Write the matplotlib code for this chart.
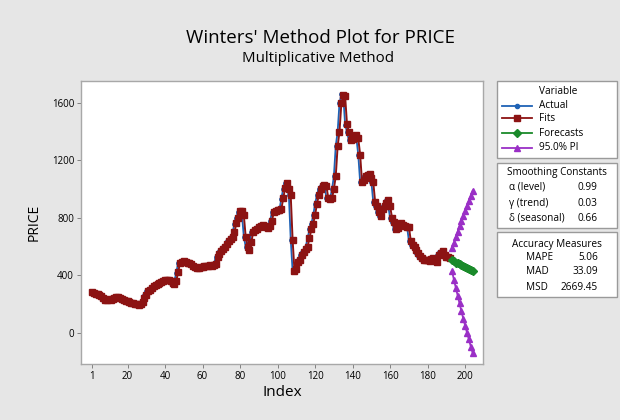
import matplotlib
matplotlib.use("Agg")
import matplotlib.pyplot as plt
from matplotlib.patches import Rectangle
from matplotlib.lines import Line2D
import numpy as np

# ---------------- data ----------------
actual = [280, 275, 270, 262, 258, 245, 232, 228, 232, 230,
          236, 245, 250, 252, 248, 238, 225, 220, 218, 215,
          210, 206, 205, 200, 196, 198, 210, 240, 262, 290,
          300, 312, 322, 330, 342, 348, 352, 360, 365, 368,
          370, 362, 350, 342, 362, 420, 488, 495, 498, 492,
          488, 486, 484, 470, 458, 452, 450, 455, 460, 462,
          462, 465, 470, 468, 472, 476, 525, 548, 570, 585,
          600, 615, 640, 652, 670, 700, 760, 800, 845, 850,
          820, 670, 600, 575, 630, 700, 712, 722, 735, 745,
          750, 742, 735, 728, 745, 780, 840, 850, 858, 855,
          860, 935, 1005, 1045, 1000, 960, 650, 430, 445, 490,
          510, 540, 560, 580, 600, 660, 720, 760, 820, 900,
          960, 1005, 1020, 1030, 1025, 940, 930, 935, 1000, 1090,
          1300, 1400, 1600, 1660, 1650, 1450, 1400, 1340, 1345, 1370,
          1375, 1355, 1240, 1050, 1060, 1095, 1100, 1110, 1080, 1050,
          910, 885, 840, 815, 860, 885, 905, 925, 880, 800,
          770, 725, 730, 760, 765, 750, 742, 738, 740, 640,
          610, 600, 575, 555, 535, 520, 510, 505, 505, 500,
          512, 520, 505, 490, 540, 560, 568, 545, 530, 528,
          520, 515]

fits = [282, 278, 274, 268, 262, 256, 244, 232, 230, 233,
        232, 238, 246, 251, 252, 246, 237, 226, 221, 219,
        214, 210, 207, 204, 200, 197, 200, 212, 242, 264,
        292, 302, 314, 324, 332, 344, 349, 354, 361, 366,
        369, 370, 361, 350, 343, 364, 422, 490, 496, 498,
        491, 488, 486, 483, 469, 458, 452, 451, 456, 460,
        463, 463, 466, 470, 468, 473, 477, 526, 549, 571,
        586, 601, 616, 641, 653, 671, 702, 762, 802, 846,
        849, 818, 668, 601, 577, 632, 702, 713, 723, 736,
        746, 750, 741, 735, 729, 746, 782, 841, 851, 858,
        855, 861, 936, 1006, 1043, 1000, 958, 648, 432, 447,
        491, 511, 541, 561, 581, 601, 661, 720, 761, 821,
        900, 960, 1004, 1020, 1030, 1024, 941, 931, 936, 1001,
        1090, 1298, 1401, 1598, 1658, 1648, 1452, 1399, 1341, 1346,
        1369, 1374, 1354, 1241, 1052, 1061, 1094, 1100, 1109, 1080,
        1049, 911, 885, 841, 816, 859, 884, 905, 924, 881,
        801, 770, 726, 731, 759, 764, 750, 742, 738, 739,
        641, 610, 600, 576, 556, 536, 521, 511, 506, 505,
        501, 512, 519, 505, 491, 539, 559, 567, 545, 531,
        528, 520]

forecasts = [505, 498, 490, 486, 478, 470, 465, 458, 450, 445, 438, 430]
upper_pi = [590, 625, 665, 705, 745, 780, 815, 850, 885, 920, 955, 990]
lower_pi = [430, 370, 315, 260, 205, 150, 100, 50, 0, -45, -95, -140]

x_ticks = [1, 20, 40, 60, 80, 100, 120, 140, 160, 180, 200]
y_ticks = [0, 400, 800, 1200, 1600]

legend_labels = ["Actual", "Fits", "Forecasts", "95.0% PI"]
smoothing_names = ["\u03b1 (level)", "\u03b3 (trend)", "\u03b4 (seasonal)"]
smoothing_values = ["0.99", "0.03", "0.66"]
accuracy_names = ["MAPE", "MAD", "MSD"]
accuracy_values = ["5.06", "33.09", "2669.45"]

# ---------------- style ----------------
BG = "#e6e6e6"
C_ACT = "#1f62b5"
C_FIT = "#8c1313"
C_FC = "#1a8a2a"
C_PI = "#9a2fc6"
FONT = ["Open Sans", "DejaVu Sans"]
plt.rcParams['font.family'] = FONT

W, H = 620, 420
fig = plt.figure(figsize=(W / 100, H / 100), dpi=100, facecolor=BG)

def fx(x):
    return x / W

def fy(y):
    return 1 - y / H

ax = fig.add_axes([fx(81), fy(364), fx(483) - fx(81), fy(81) - fy(364)])
ax.set_facecolor("white")

n = len(actual)
idx = np.arange(1, n + 1)
fidx = np.arange(n + 1, n + 1 + len(forecasts))

ax.plot(idx, actual, color=C_ACT, lw=1.3, marker="o", ms=2.5, zorder=3)
ax.plot(idx, fits, color=C_FIT, lw=1.4, marker="s", ms=4.8, zorder=4)
ax.plot(fidx, forecasts, color=C_FC, lw=1.3, marker="D", ms=4.3, zorder=5)
ax.plot(fidx, upper_pi, color=C_PI, lw=1.3, marker="^", ms=4.8, zorder=5)
ax.plot(fidx, lower_pi, color=C_PI, lw=1.3, marker="^", ms=4.8, zorder=5)

ax.set_xlim(-4.8, 209.5)
ax.set_ylim(-216, 1753)
ax.set_xticks(x_ticks)
ax.set_yticks(y_ticks)
ax.tick_params(axis="both", labelsize=7, length=3, width=0.7, color="#808080", pad=2)
for s in ax.spines.values():
    s.set_color("#a8a8a8")
    s.set_linewidth(1.0)

ax.set_xlabel("Index", fontsize=11, labelpad=2)
ax.set_ylabel("PRICE", fontsize=10, labelpad=7)

fig.text(fx(320), fy(38), "Winters' Method Plot for PRICE", ha="center", va="center", fontsize=13.5)
fig.text(fx(318), fy(59), "Multiplicative Method", ha="center", va="center", fontsize=10.8)

# ---------------- side panels ----------------
def panel(y0, y1):
    fig.patches.append(Rectangle((fx(497), fy(y1)), fx(617) - fx(497), fy(y0) - fy(y1),
                                 transform=fig.transFigure, facecolor="white",
                                 edgecolor="#9a9a9a", lw=1.0))

panel(81, 158)
panel(163, 228)
panel(232, 297)

fs = 7.2
fig.text(fx(558), fy(91), "Variable", ha="center", va="center", fontsize=fs)
colors = [C_ACT, C_FIT, C_FC, C_PI]
markers = ["o", "s", "D", "^"]
msizes = [3, 5, 4.5, 5]
rows = [105.7, 118.3, 133, 147.7]
for lab, c, m, ms, yy in zip(legend_labels, colors, markers, msizes, rows):
    fig.add_artist(Line2D([fx(502), fx(532)], [fy(yy), fy(yy)], color=c, lw=1.3,
                          transform=fig.transFigure))
    fig.add_artist(Line2D([fx(517)], [fy(yy)], color=c, marker=m, ms=ms, lw=0,
                          transform=fig.transFigure))
    fig.text(fx(539), fy(yy), lab, ha="left", va="center", fontsize=fs)

fig.text(fx(557), fy(173), "Smoothing Constants", ha="center", va="center", fontsize=fs)
for nm, v, yy in zip(smoothing_names, smoothing_values, [187, 203, 218]):
    fig.text(fx(509), fy(yy), nm, ha="left", va="center", fontsize=fs)
    fig.text(fx(577), fy(yy), v, ha="left", va="center", fontsize=fs)

fig.text(fx(557), fy(244), "Accuracy Measures", ha="center", va="center", fontsize=fs)
for nm, v, yy in zip(accuracy_names, accuracy_values, [258, 272, 287]):
    fig.text(fx(526), fy(yy), nm, ha="left", va="center", fontsize=fs)
    fig.text(fx(598), fy(yy), v, ha="right", va="center", fontsize=fs)

fig.savefig("out.png", dpi=100, facecolor=BG)
